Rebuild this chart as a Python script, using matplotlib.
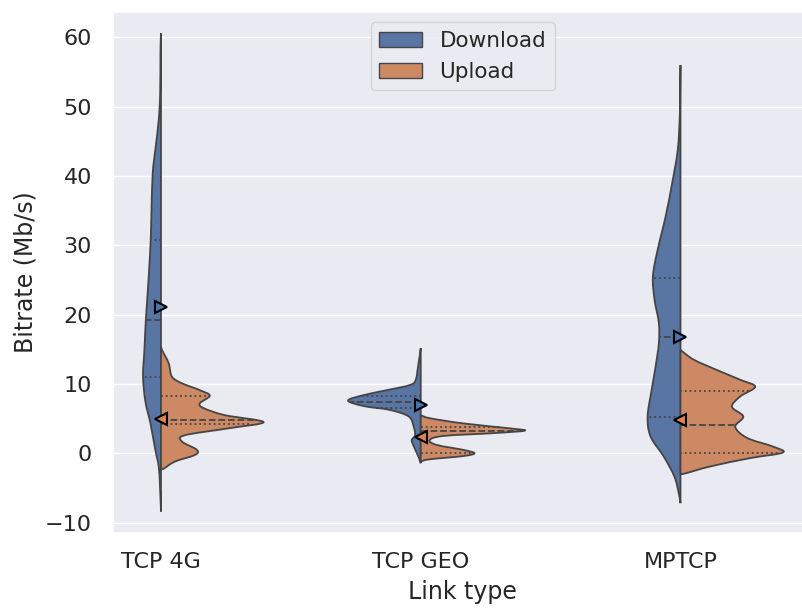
import numpy as np
import matplotlib
matplotlib.use("Agg")
import matplotlib.pyplot as plt
import seaborn as sns
from matplotlib.patches import Patch, PathPatch
from matplotlib.path import Path

categories = ["TCP 4G", "TCP GEO", "MPTCP"]
hues = ["Download", "Upload"]
yticks = [-10, 0, 10, 20, 30, 40, 50, 60]

# Density profiles (bitrate in Mb/s, relative density)
dl_4g_y = [60.6, 58, 52, 48, 44, 40.4, 35, 30.8, 25, 19.2, 15, 11.1, 7.5, 4.4, 0.5, -1.9, -4.8, -8.4]
dl_4g_d = [0, 0.5, 0.8, 2.3, 5.5, 8.3, 9.5, 10.3, 12.5, 15.2, 16.6, 18, 15.7, 10.7, 5.7, 2.3, 1.0, 0]
ul_4g_y = [15.4, 14.9, 13.0, 11.05, 10.1, 9.1, 8.3, 7.2, 6.5, 5.5, 4.5, 3.6, 2.6, 1.7, 0.5, -0.25, -1.2, -2.2, -2.3]
ul_4g_d = [0, 1, 7.7, 11, 21, 39, 49, 39, 43, 64, 103, 68, 24, 21, 36, 34, 14, 3, 0]

dl_geo_y = [15.15, 12.5, 10.6, 9.85, 9.1, 8.4, 7.6, 6.8, 6.25, 5.3, 3.8, 2.6, 1.9, 1.0, -0.5, -1.44]
dl_geo_d = [0, 2.7, 5, 10.7, 34, 57, 73, 57, 31, 12, 7, 5.7, 9, 7, 2.3, 0]
ul_geo_y = [5.5, 5.05, 4.3, 3.6, 3.26, 2.9, 2.5, 1.9, 1.2, 0.48, 0.0, -0.4, -0.87, -1.2]
ul_geo_d = [0, 9.3, 43, 89, 104.3, 73, 23, 9, 16, 43, 54, 43, 9, 0]

dl_mp_y = [56.0, 52, 48.6, 43.8, 39.0, 34.1, 29.3, 25.5, 22.1, 18.8, 15.9, 12.5, 9.1, 5.3, 2.4, -0.5, -3.4, -5.8, -7.2]
dl_mp_d = [0, 0.3, 0.7, 2.7, 8.3, 15, 23, 27.7, 26, 21.7, 21.7, 25, 29, 33, 30, 16.7, 6, 1.7, 0]
ul_mp_y = [14.9, 13.5, 12.0, 10.6, 9.6, 8.2, 6.7, 5.3, 3.8, 2.2, 0.96, 0.1, -0.7, -1.9, -2.9, -3.0]
ul_mp_d = [0, 13.3, 36.7, 60, 75, 60, 51.7, 63, 55, 67, 93, 102.7, 70, 30, 5, 0]

# Quartiles (q1, median, q3) and means
dl_quart = [[11.05, 19.2, 30.8], [6.6, 7.45, 8.2], [5.3, 16.8, 25.3]]
ul_quart = [[4.15, 4.75, 8.25], [0.0, 3.26, 3.75], [0.0, 4.1, 9.0]]
dl_mean = [21.1, 7.0, 16.8]
ul_mean = [5.0, 2.3, 4.8]

profiles = [
    [(dl_4g_y, dl_4g_d), (ul_4g_y, ul_4g_d)],
    [(dl_geo_y, dl_geo_d), (ul_geo_y, ul_geo_d)],
    [(dl_mp_y, dl_mp_d), (ul_mp_y, ul_mp_d)],
]
quarts = [dl_quart, ul_quart]
means = [dl_mean, ul_mean]

sns.set_theme(style="darkgrid")
plt.rcParams["font.family"] = ["DejaVu Sans"]

fig = plt.figure(figsize=(8.03, 6.08), dpi=100)
ax = fig.add_axes([0.1403, 0.1234, 0.8721, 0.8574])

pal = sns.color_palette("deep")
face = [sns.desaturate(pal[0], 0.75), sns.desaturate(pal[1], 0.75)]
lc = "0.27"
lw = 1.3
dmax = max(max(d) for cat in profiles for (_, d) in cat)
half = 0.4


def smooth_half(xc, side, y, w):
    """Outline through the read points drawn with cubic Bezier segments."""
    pts = np.column_stack([w, y])
    n = len(pts)
    verts = [(xc, y[0]), (xc + side * w[0], y[0])]
    codes = [Path.MOVETO, Path.LINETO]
    for k in range(n - 1):
        p0 = pts[max(k - 1, 0)]
        p1 = pts[k]
        p2 = pts[k + 1]
        p3 = pts[min(k + 2, n - 1)]
        c1 = p1 + (p2 - p0) / 6.0
        c2 = p2 - (p3 - p1) / 6.0
        c1[0] = max(c1[0], 0.0)
        c2[0] = max(c2[0], 0.0)
        for c in (c1, c2, p2):
            verts.append((xc + side * c[0], c[1]))
        codes += [Path.CURVE4] * 3
    verts.append((xc, y[-1]))
    codes.append(Path.LINETO)
    verts.append((xc, y[0]))
    codes.append(Path.CLOSEPOLY)
    return Path(verts, codes)


for i in range(len(categories)):
    for j, side in enumerate((-1, 1)):
        y = np.asarray(profiles[i][j][0], float)
        d = np.asarray(profiles[i][j][1], float) / dmax * half
        patch = PathPatch(smooth_half(i, side, y, d), facecolor=face[j],
                          edgecolor=lc, linewidth=lw, zorder=2)
        ax.add_patch(patch)
        order = np.argsort(y)
        for k, q in enumerate(quarts[j][i]):
            w = np.interp(q, y[order], d[order])
            ax.plot([i, i + side * w], [q, q], color=lc, lw=lw,
                    ls="--" if k == 1 else ":", zorder=3)
        ax.plot([i], [means[j][i]], ls="none", marker=">" if j == 0 else "<",
                ms=9, mfc=pal[j], mec="black", mew=1.5, zorder=4)

ax.set_xlim(-0.186, 2.51)
ax.set_ylim(-11.5, 63.7)
ax.set_xticks(range(len(categories)))
ax.set_xticklabels(categories)
ax.set_yticks(yticks)
ax.grid(False, axis="x")
ax.tick_params(axis="x", labelsize=16, pad=8)
ax.tick_params(axis="y", labelsize=16, pad=9)
ax.set_xlabel("Link type", fontsize=17)
ax.set_ylabel("Bitrate (Mb/s)", fontsize=17)
ax.yaxis.set_label_coords(-0.107, 0.5)
ax.xaxis.set_label_coords(0.5, -0.09)

handles = [Patch(facecolor=face[j], edgecolor=lc, label=hues[j]) for j in range(2)]
ax.legend(handles=handles, loc="upper center", fontsize=15.5)

fig.savefig("out.png", dpi=100)
